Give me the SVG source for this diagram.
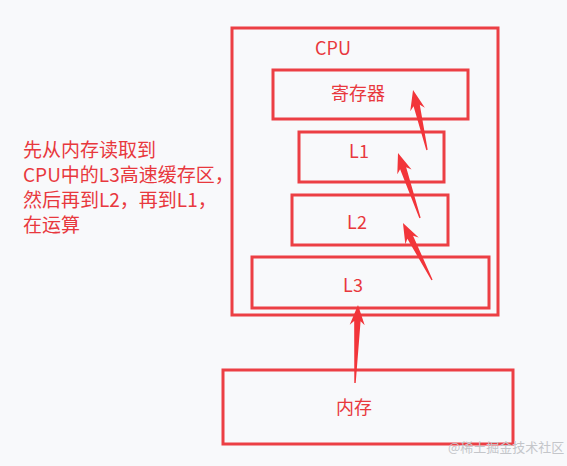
<svg xmlns="http://www.w3.org/2000/svg" width="567" height="466" viewBox="0 0 567 466">
<style>
.box{fill:none;stroke:#ec3f44;stroke-width:3}
.t{fill:#e8383d;font-family:"Microsoft YaHei","Noto Sans CJK SC","Noto Sans",sans-serif;font-size:18px}
.c{text-anchor:middle}
.n{font-size:19px}
.arr{fill:#f2353a}
</style>
<rect width="567" height="466" fill="#f8f9fb"/>
<g id="cpu"><rect class="box" x="232" y="28" width="266" height="287"/><text class="t" x="315" y="55">CPU</text></g>
<g id="reg"><rect class="box" x="273" y="70" width="195" height="49"/><text class="t c" x="358" y="100">寄存器</text></g>
<g id="l1"><rect class="box" x="299" y="132" width="145" height="50"/><text class="t c" x="359" y="158">L1</text></g>
<g id="l2"><rect class="box" x="292" y="195" width="156" height="50"/><text class="t c" x="357" y="229">L2</text></g>
<g id="l3"><rect class="box" x="252" y="257" width="237" height="51"/><text class="t c" x="353" y="292">L3</text></g>
<g id="mem"><rect class="box" x="223" y="370" width="290" height="74"/><text class="t c" x="354" y="414">内存</text></g>
<g id="note"><text class="t n" x="23" y="157">先从内存读取到</text><text class="t n" x="23" y="182">CPU中的L3高速缓存区，</text><text class="t n" x="23" y="207">然后再到L2，再到L1，</text><text class="t n" x="23" y="232">在运算</text></g>
<g id="connectors">
<path class="arr" transform="translate(427,150) rotate(-13.1)" d="M0.7,0 L3.2,-45.6 L7.5,-41.6 L0,-61.6 L-7.5,-41.6 L-3.2,-45.6 L-0.7,0 Z"/>
<path class="arr" transform="translate(420,218) rotate(-18.7)" d="M0.7,0 L3.2,-52.6 L7.5,-48.6 L0,-68.6 L-7.5,-48.6 L-3.2,-52.6 L-0.7,0 Z"/>
<path class="arr" transform="translate(432,280) rotate(-27)" d="M0.7,0 L3.2,-48 L7.5,-44 L0,-64 L-7.5,-44 L-3.2,-48 L-0.7,0 Z"/>
<path class="arr" transform="translate(355,383) rotate(2.2)" d="M0.7,0 L3.2,-62 L7.5,-58 L0,-78 L-7.5,-58 L-3.2,-62 L-0.7,0 Z"/>
</g>
<text x="448" y="452" style="fill:#c4c6ca;font-family:'Noto Sans CJK SC',sans-serif;font-size:13px">@稀土掘金技术社区</text>
</svg>
